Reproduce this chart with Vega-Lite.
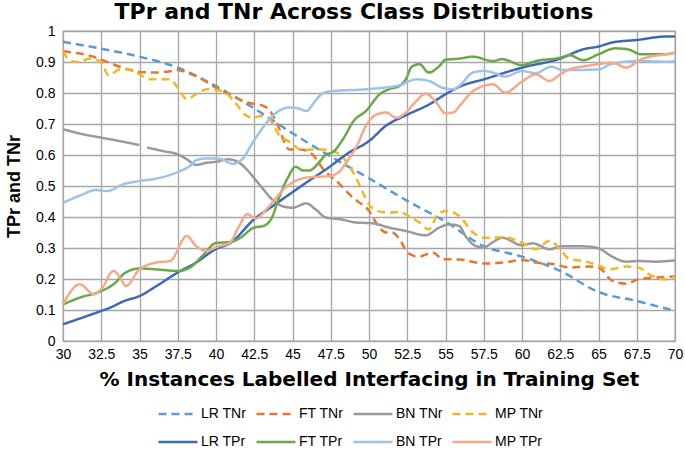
{
  "$schema": "https://vega.github.io/schema/vega-lite/v6.json",
  "width": 612,
  "height": 310,
  "autosize": "none",
  "padding": {"left": 63, "top": 31, "right": 10, "bottom": 109},
  "background": "white",
  "title": {"text": "TPr and TNr Across Class Distributions", "fontSize": 22, "fontWeight": "bold", "font": "DejaVu Sans", "color": "#000000", "offset": 0, "dx": -15},
  "config": {"view": {"stroke": "#a6a6a6", "strokeWidth": 1.3}, "font": "Liberation Sans"},
  "datasets": {
    "d": [
      {"series": "LR TNr", "x": 30, "y": 0.965}, {"series": "LR TNr", "x": 32.5, "y": 0.943}, {"series": "LR TNr", "x": 35, "y": 0.917}, {"series": "LR TNr", "x": 37.5, "y": 0.882}, {"series": "LR TNr", "x": 40, "y": 0.822}, {"series": "LR TNr", "x": 42.5, "y": 0.75}, {"series": "LR TNr", "x": 45, "y": 0.67}, {"series": "LR TNr", "x": 47.5, "y": 0.595}, {"series": "LR TNr", "x": 50, "y": 0.525}, {"series": "LR TNr", "x": 52.5, "y": 0.452}, {"series": "LR TNr", "x": 55, "y": 0.385}, {"series": "LR TNr", "x": 57.5, "y": 0.306}, {"series": "LR TNr", "x": 60, "y": 0.272}, {"series": "LR TNr", "x": 62.5, "y": 0.226}, {"series": "LR TNr", "x": 65, "y": 0.158}, {"series": "LR TNr", "x": 67.5, "y": 0.129}, {"series": "LR TNr", "x": 70, "y": 0.097},

      {"series": "FT TNr", "x": 30, "y": 0.935}, {"series": "FT TNr", "x": 31, "y": 0.928}, {"series": "FT TNr", "x": 32, "y": 0.917}, {"series": "FT TNr", "x": 33, "y": 0.898}, {"series": "FT TNr", "x": 34, "y": 0.88}, {"series": "FT TNr", "x": 35, "y": 0.868}, {"series": "FT TNr", "x": 36, "y": 0.866}, {"series": "FT TNr", "x": 37, "y": 0.87}, {"series": "FT TNr", "x": 37.5, "y": 0.874}, {"series": "FT TNr", "x": 38, "y": 0.868}, {"series": "FT TNr", "x": 39, "y": 0.847}, {"series": "FT TNr", "x": 40, "y": 0.817}, {"series": "FT TNr", "x": 41, "y": 0.793}, {"series": "FT TNr", "x": 42, "y": 0.77}, {"series": "FT TNr", "x": 43, "y": 0.76}, {"series": "FT TNr", "x": 43.5, "y": 0.745}, {"series": "FT TNr", "x": 44, "y": 0.7}, {"series": "FT TNr", "x": 44.8, "y": 0.618}, {"series": "FT TNr", "x": 45.5, "y": 0.618}, {"series": "FT TNr", "x": 46.3, "y": 0.602}, {"series": "FT TNr", "x": 47, "y": 0.555}, {"series": "FT TNr", "x": 48, "y": 0.51}, {"series": "FT TNr", "x": 49, "y": 0.46}, {"series": "FT TNr", "x": 50, "y": 0.42}, {"series": "FT TNr", "x": 50.6, "y": 0.371}, {"series": "FT TNr", "x": 51.1, "y": 0.35}, {"series": "FT TNr", "x": 51.5, "y": 0.35}, {"series": "FT TNr", "x": 52, "y": 0.328}, {"series": "FT TNr", "x": 52.5, "y": 0.287}, {"series": "FT TNr", "x": 53.2, "y": 0.272}, {"series": "FT TNr", "x": 54.2, "y": 0.285}, {"series": "FT TNr", "x": 54.8, "y": 0.264}, {"series": "FT TNr", "x": 55.9, "y": 0.263}, {"series": "FT TNr", "x": 57.5, "y": 0.25}, {"series": "FT TNr", "x": 58.8, "y": 0.253}, {"series": "FT TNr", "x": 60, "y": 0.261}, {"series": "FT TNr", "x": 60.9, "y": 0.253}, {"series": "FT TNr", "x": 62.2, "y": 0.247}, {"series": "FT TNr", "x": 63.1, "y": 0.237}, {"series": "FT TNr", "x": 64.3, "y": 0.24}, {"series": "FT TNr", "x": 65, "y": 0.237}, {"series": "FT TNr", "x": 65.9, "y": 0.194}, {"series": "FT TNr", "x": 66.8, "y": 0.185}, {"series": "FT TNr", "x": 67.6, "y": 0.199}, {"series": "FT TNr", "x": 68.5, "y": 0.204}, {"series": "FT TNr", "x": 70, "y": 0.208},

      {"series": "BN TNr", "x": 30, "y": 0.683}, {"series": "BN TNr", "x": 31.3, "y": 0.667}, {"series": "BN TNr", "x": 32.5, "y": 0.656}, {"series": "BN TNr", "x": 33.7, "y": 0.645}, {"series": "BN TNr", "x": 35, "y": 0.632}, {"series": "BN TNr", "x": 35.25, "y": null}, {"series": "BN TNr", "x": 35.5, "y": 0.624}, {"series": "BN TNr", "x": 36.5, "y": 0.613}, {"series": "BN TNr", "x": 37.5, "y": 0.602}, {"series": "BN TNr", "x": 38.1, "y": 0.586}, {"series": "BN TNr", "x": 38.7, "y": 0.568}, {"series": "BN TNr", "x": 39.4, "y": 0.575}, {"series": "BN TNr", "x": 40, "y": 0.578}, {"series": "BN TNr", "x": 40.8, "y": 0.586}, {"series": "BN TNr", "x": 41.3, "y": 0.581}, {"series": "BN TNr", "x": 42, "y": 0.554}, {"series": "BN TNr", "x": 42.5, "y": 0.525}, {"series": "BN TNr", "x": 43.1, "y": 0.489}, {"series": "BN TNr", "x": 43.7, "y": 0.455}, {"series": "BN TNr", "x": 44.4, "y": 0.434}, {"series": "BN TNr", "x": 45, "y": 0.43}, {"series": "BN TNr", "x": 45.9, "y": 0.444}, {"series": "BN TNr", "x": 46.5, "y": 0.425}, {"series": "BN TNr", "x": 47.2, "y": 0.398}, {"series": "BN TNr", "x": 48.1, "y": 0.393}, {"series": "BN TNr", "x": 49.2, "y": 0.382}, {"series": "BN TNr", "x": 50.2, "y": 0.38}, {"series": "BN TNr", "x": 51.3, "y": 0.366}, {"series": "BN TNr", "x": 52.4, "y": 0.355}, {"series": "BN TNr", "x": 53.7, "y": 0.341}, {"series": "BN TNr", "x": 54.6, "y": 0.366}, {"series": "BN TNr", "x": 55.2, "y": 0.376}, {"series": "BN TNr", "x": 55.9, "y": 0.371}, {"series": "BN TNr", "x": 56.3, "y": 0.339}, {"series": "BN TNr", "x": 57, "y": 0.306}, {"series": "BN TNr", "x": 57.5, "y": 0.302}, {"series": "BN TNr", "x": 58.1, "y": 0.319}, {"series": "BN TNr", "x": 58.7, "y": 0.333}, {"series": "BN TNr", "x": 60, "y": 0.309}, {"series": "BN TNr", "x": 60.7, "y": 0.315}, {"series": "BN TNr", "x": 61.8, "y": 0.296}, {"series": "BN TNr", "x": 62.5, "y": 0.305}, {"series": "BN TNr", "x": 63.1, "y": 0.306}, {"series": "BN TNr", "x": 64.2, "y": 0.305}, {"series": "BN TNr", "x": 65, "y": 0.299}, {"series": "BN TNr", "x": 65.9, "y": 0.272}, {"series": "BN TNr", "x": 66.8, "y": 0.256}, {"series": "BN TNr", "x": 67.6, "y": 0.258}, {"series": "BN TNr", "x": 68.7, "y": 0.256}, {"series": "BN TNr", "x": 70, "y": 0.26},

      {"series": "MP TNr", "x": 30, "y": 0.935}, {"series": "MP TNr", "x": 30.5, "y": 0.903}, {"series": "MP TNr", "x": 31.1, "y": 0.9}, {"series": "MP TNr", "x": 31.7, "y": 0.911}, {"series": "MP TNr", "x": 32.4, "y": 0.903}, {"series": "MP TNr", "x": 33, "y": 0.857}, {"series": "MP TNr", "x": 33.7, "y": 0.876}, {"series": "MP TNr", "x": 34.4, "y": 0.876}, {"series": "MP TNr", "x": 35, "y": 0.86}, {"series": "MP TNr", "x": 35.7, "y": 0.844}, {"series": "MP TNr", "x": 36.5, "y": 0.844}, {"series": "MP TNr", "x": 37, "y": 0.844}, {"series": "MP TNr", "x": 37.5, "y": 0.817}, {"series": "MP TNr", "x": 38.1, "y": 0.78}, {"series": "MP TNr", "x": 38.7, "y": 0.796}, {"series": "MP TNr", "x": 39.4, "y": 0.812}, {"series": "MP TNr", "x": 40, "y": 0.81}, {"series": "MP TNr", "x": 40.7, "y": 0.798}, {"series": "MP TNr", "x": 41.3, "y": 0.766}, {"series": "MP TNr", "x": 41.9, "y": 0.73}, {"series": "MP TNr", "x": 42.4, "y": 0.72}, {"series": "MP TNr", "x": 42.9, "y": 0.726}, {"series": "MP TNr", "x": 43.5, "y": 0.715}, {"series": "MP TNr", "x": 44.1, "y": 0.667}, {"series": "MP TNr", "x": 44.9, "y": 0.64}, {"series": "MP TNr", "x": 45.6, "y": 0.616}, {"series": "MP TNr", "x": 46.5, "y": 0.618}, {"series": "MP TNr", "x": 47, "y": 0.618}, {"series": "MP TNr", "x": 47.6, "y": 0.613}, {"series": "MP TNr", "x": 48.1, "y": 0.602}, {"series": "MP TNr", "x": 48.7, "y": 0.565}, {"series": "MP TNr", "x": 49.2, "y": 0.522}, {"series": "MP TNr", "x": 49.6, "y": 0.479}, {"series": "MP TNr", "x": 50, "y": 0.44}, {"series": "MP TNr", "x": 50.6, "y": 0.419}, {"series": "MP TNr", "x": 51.3, "y": 0.414}, {"series": "MP TNr", "x": 52, "y": 0.416}, {"series": "MP TNr", "x": 52.6, "y": 0.403}, {"series": "MP TNr", "x": 53.3, "y": 0.382}, {"series": "MP TNr", "x": 53.9, "y": 0.36}, {"series": "MP TNr", "x": 54.6, "y": 0.414}, {"series": "MP TNr", "x": 55.2, "y": 0.419}, {"series": "MP TNr", "x": 55.9, "y": 0.403}, {"series": "MP TNr", "x": 56.8, "y": 0.35}, {"series": "MP TNr", "x": 57.5, "y": 0.333}, {"series": "MP TNr", "x": 58.8, "y": 0.335}, {"series": "MP TNr", "x": 60, "y": 0.317}, {"series": "MP TNr", "x": 60.9, "y": 0.296}, {"series": "MP TNr", "x": 61.8, "y": 0.323}, {"series": "MP TNr", "x": 62.5, "y": 0.296}, {"series": "MP TNr", "x": 63.1, "y": 0.264}, {"series": "MP TNr", "x": 64, "y": 0.258}, {"series": "MP TNr", "x": 65, "y": 0.244}, {"series": "MP TNr", "x": 65.7, "y": 0.231}, {"series": "MP TNr", "x": 66.8, "y": 0.24}, {"series": "MP TNr", "x": 67.6, "y": 0.237}, {"series": "MP TNr", "x": 68.5, "y": 0.21}, {"series": "MP TNr", "x": 69.4, "y": 0.199}, {"series": "MP TNr", "x": 70, "y": 0.208},

      {"series": "LR TPr", "x": 30, "y": 0.054}, {"series": "LR TPr", "x": 32.5, "y": 0.097}, {"series": "LR TPr", "x": 33.1, "y": 0.108}, {"series": "LR TPr", "x": 34, "y": 0.129}, {"series": "LR TPr", "x": 35, "y": 0.145}, {"series": "LR TPr", "x": 36.1, "y": 0.177}, {"series": "LR TPr", "x": 37.5, "y": 0.221}, {"series": "LR TPr", "x": 38.7, "y": 0.253}, {"series": "LR TPr", "x": 40, "y": 0.297}, {"series": "LR TPr", "x": 40.9, "y": 0.315}, {"series": "LR TPr", "x": 42.5, "y": 0.393}, {"series": "LR TPr", "x": 43.7, "y": 0.435}, {"series": "LR TPr", "x": 45, "y": 0.48}, {"series": "LR TPr", "x": 45.9, "y": 0.511}, {"series": "LR TPr", "x": 47.2, "y": 0.554}, {"series": "LR TPr", "x": 48.7, "y": 0.608}, {"series": "LR TPr", "x": 50, "y": 0.645}, {"series": "LR TPr", "x": 51.1, "y": 0.694}, {"series": "LR TPr", "x": 52.5, "y": 0.73}, {"series": "LR TPr", "x": 54, "y": 0.765}, {"series": "LR TPr", "x": 55, "y": 0.796}, {"series": "LR TPr", "x": 55.9, "y": 0.82}, {"series": "LR TPr", "x": 57.5, "y": 0.844}, {"series": "LR TPr", "x": 60, "y": 0.882}, {"series": "LR TPr", "x": 62.5, "y": 0.911}, {"series": "LR TPr", "x": 64, "y": 0.941}, {"series": "LR TPr", "x": 65, "y": 0.95}, {"series": "LR TPr", "x": 65.9, "y": 0.963}, {"series": "LR TPr", "x": 67.5, "y": 0.971}, {"series": "LR TPr", "x": 69.4, "y": 0.982}, {"series": "LR TPr", "x": 70, "y": 0.982},

      {"series": "FT TPr", "x": 30, "y": 0.118}, {"series": "FT TPr", "x": 31.1, "y": 0.14}, {"series": "FT TPr", "x": 32.5, "y": 0.161}, {"series": "FT TPr", "x": 33.3, "y": 0.183}, {"series": "FT TPr", "x": 34.1, "y": 0.221}, {"series": "FT TPr", "x": 35, "y": 0.234}, {"series": "FT TPr", "x": 36.1, "y": 0.231}, {"series": "FT TPr", "x": 37.5, "y": 0.226}, {"series": "FT TPr", "x": 38.3, "y": 0.237}, {"series": "FT TPr", "x": 39.1, "y": 0.274}, {"series": "FT TPr", "x": 40, "y": 0.316}, {"series": "FT TPr", "x": 40.9, "y": 0.319}, {"series": "FT TPr", "x": 41.5, "y": 0.33}, {"series": "FT TPr", "x": 42.5, "y": 0.366}, {"series": "FT TPr", "x": 43.1, "y": 0.371}, {"series": "FT TPr", "x": 43.7, "y": 0.403}, {"series": "FT TPr", "x": 44.1, "y": 0.46}, {"series": "FT TPr", "x": 44.7, "y": 0.527}, {"series": "FT TPr", "x": 45.2, "y": 0.562}, {"series": "FT TPr", "x": 45.7, "y": 0.55}, {"series": "FT TPr", "x": 46.1, "y": 0.55}, {"series": "FT TPr", "x": 46.8, "y": 0.58}, {"series": "FT TPr", "x": 47.2, "y": 0.602}, {"series": "FT TPr", "x": 47.6, "y": 0.608}, {"series": "FT TPr", "x": 48.3, "y": 0.651}, {"series": "FT TPr", "x": 49, "y": 0.71}, {"series": "FT TPr", "x": 49.8, "y": 0.742}, {"series": "FT TPr", "x": 50.7, "y": 0.796}, {"series": "FT TPr", "x": 51.3, "y": 0.812}, {"series": "FT TPr", "x": 52, "y": 0.823}, {"series": "FT TPr", "x": 52.4, "y": 0.844}, {"series": "FT TPr", "x": 52.8, "y": 0.885}, {"series": "FT TPr", "x": 53.3, "y": 0.893}, {"series": "FT TPr", "x": 53.9, "y": 0.866}, {"series": "FT TPr", "x": 54.6, "y": 0.887}, {"series": "FT TPr", "x": 55, "y": 0.907}, {"series": "FT TPr", "x": 55.9, "y": 0.911}, {"series": "FT TPr", "x": 56.8, "y": 0.917}, {"series": "FT TPr", "x": 58.1, "y": 0.903}, {"series": "FT TPr", "x": 58.7, "y": 0.909}, {"series": "FT TPr", "x": 60, "y": 0.89}, {"series": "FT TPr", "x": 60.9, "y": 0.903}, {"series": "FT TPr", "x": 62.5, "y": 0.914}, {"series": "FT TPr", "x": 63.1, "y": 0.922}, {"series": "FT TPr", "x": 64, "y": 0.906}, {"series": "FT TPr", "x": 65, "y": 0.925}, {"series": "FT TPr", "x": 66.1, "y": 0.944}, {"series": "FT TPr", "x": 66.9, "y": 0.941}, {"series": "FT TPr", "x": 67.8, "y": 0.925}, {"series": "FT TPr", "x": 69.4, "y": 0.925}, {"series": "FT TPr", "x": 70, "y": 0.93},

      {"series": "BN TPr", "x": 30, "y": 0.446}, {"series": "BN TPr", "x": 31.3, "y": 0.473}, {"series": "BN TPr", "x": 32.1, "y": 0.487}, {"series": "BN TPr", "x": 32.9, "y": 0.484}, {"series": "BN TPr", "x": 33.9, "y": 0.505}, {"series": "BN TPr", "x": 35, "y": 0.516}, {"series": "BN TPr", "x": 36.1, "y": 0.524}, {"series": "BN TPr", "x": 37.5, "y": 0.545}, {"series": "BN TPr", "x": 38.3, "y": 0.565}, {"series": "BN TPr", "x": 38.7, "y": 0.583}, {"series": "BN TPr", "x": 39.4, "y": 0.589}, {"series": "BN TPr", "x": 40.2, "y": 0.588}, {"series": "BN TPr", "x": 41.1, "y": 0.572}, {"series": "BN TPr", "x": 41.7, "y": 0.586}, {"series": "BN TPr", "x": 42.4, "y": 0.64}, {"series": "BN TPr", "x": 43.3, "y": 0.704}, {"series": "BN TPr", "x": 44.1, "y": 0.742}, {"series": "BN TPr", "x": 44.8, "y": 0.753}, {"series": "BN TPr", "x": 45.4, "y": 0.75}, {"series": "BN TPr", "x": 45.9, "y": 0.742}, {"series": "BN TPr", "x": 46.5, "y": 0.775}, {"series": "BN TPr", "x": 47, "y": 0.8}, {"series": "BN TPr", "x": 47.6, "y": 0.806}, {"series": "BN TPr", "x": 49.8, "y": 0.812}, {"series": "BN TPr", "x": 52, "y": 0.825}, {"series": "BN TPr", "x": 53.1, "y": 0.844}, {"series": "BN TPr", "x": 53.9, "y": 0.839}, {"series": "BN TPr", "x": 54.8, "y": 0.817}, {"series": "BN TPr", "x": 55.5, "y": 0.812}, {"series": "BN TPr", "x": 55.9, "y": 0.823}, {"series": "BN TPr", "x": 56.8, "y": 0.866}, {"series": "BN TPr", "x": 57.5, "y": 0.871}, {"series": "BN TPr", "x": 58.1, "y": 0.866}, {"series": "BN TPr", "x": 58.9, "y": 0.853}, {"series": "BN TPr", "x": 60, "y": 0.871}, {"series": "BN TPr", "x": 60.9, "y": 0.864}, {"series": "BN TPr", "x": 61.9, "y": 0.885}, {"series": "BN TPr", "x": 62.5, "y": 0.876}, {"series": "BN TPr", "x": 63.1, "y": 0.874}, {"series": "BN TPr", "x": 65, "y": 0.876}, {"series": "BN TPr", "x": 65.8, "y": 0.893}, {"series": "BN TPr", "x": 67.5, "y": 0.903}, {"series": "BN TPr", "x": 69.4, "y": 0.901}, {"series": "BN TPr", "x": 70, "y": 0.903},

      {"series": "MP TPr", "x": 30, "y": 0.118}, {"series": "MP TPr", "x": 31.1, "y": 0.183}, {"series": "MP TPr", "x": 32, "y": 0.151}, {"series": "MP TPr", "x": 32.5, "y": 0.167}, {"series": "MP TPr", "x": 33.3, "y": 0.226}, {"series": "MP TPr", "x": 33.8, "y": 0.199}, {"series": "MP TPr", "x": 34.1, "y": 0.177}, {"series": "MP TPr", "x": 35, "y": 0.231}, {"series": "MP TPr", "x": 36.1, "y": 0.253}, {"series": "MP TPr", "x": 37, "y": 0.258}, {"series": "MP TPr", "x": 38.1, "y": 0.339}, {"series": "MP TPr", "x": 38.7, "y": 0.306}, {"series": "MP TPr", "x": 39.4, "y": 0.29}, {"series": "MP TPr", "x": 40, "y": 0.303}, {"series": "MP TPr", "x": 40.9, "y": 0.317}, {"series": "MP TPr", "x": 41.5, "y": 0.37}, {"series": "MP TPr", "x": 42.05, "y": 0.409}, {"series": "MP TPr", "x": 42.6, "y": 0.395}, {"series": "MP TPr", "x": 43.3, "y": 0.425}, {"series": "MP TPr", "x": 43.9, "y": 0.46}, {"series": "MP TPr", "x": 44.4, "y": 0.489}, {"series": "MP TPr", "x": 45, "y": 0.511}, {"series": "MP TPr", "x": 45.9, "y": 0.527}, {"series": "MP TPr", "x": 46.8, "y": 0.53}, {"series": "MP TPr", "x": 47.4, "y": 0.532}, {"series": "MP TPr", "x": 48.1, "y": 0.548}, {"series": "MP TPr", "x": 48.5, "y": 0.575}, {"series": "MP TPr", "x": 49.2, "y": 0.629}, {"series": "MP TPr", "x": 49.8, "y": 0.694}, {"series": "MP TPr", "x": 50.5, "y": 0.731}, {"series": "MP TPr", "x": 51.1, "y": 0.737}, {"series": "MP TPr", "x": 51.8, "y": 0.72}, {"series": "MP TPr", "x": 52.4, "y": 0.737}, {"series": "MP TPr", "x": 53.1, "y": 0.774}, {"series": "MP TPr", "x": 53.7, "y": 0.798}, {"series": "MP TPr", "x": 54.4, "y": 0.769}, {"series": "MP TPr", "x": 55, "y": 0.735}, {"series": "MP TPr", "x": 55.5, "y": 0.737}, {"series": "MP TPr", "x": 55.9, "y": 0.757}, {"series": "MP TPr", "x": 56.8, "y": 0.806}, {"series": "MP TPr", "x": 58.1, "y": 0.828}, {"series": "MP TPr", "x": 58.9, "y": 0.801}, {"series": "MP TPr", "x": 60, "y": 0.837}, {"series": "MP TPr", "x": 60.9, "y": 0.86}, {"series": "MP TPr", "x": 61.8, "y": 0.839}, {"series": "MP TPr", "x": 62.5, "y": 0.86}, {"series": "MP TPr", "x": 63.1, "y": 0.876}, {"series": "MP TPr", "x": 64.2, "y": 0.887}, {"series": "MP TPr", "x": 65, "y": 0.893}, {"series": "MP TPr", "x": 65.9, "y": 0.898}, {"series": "MP TPr", "x": 66.8, "y": 0.882}, {"series": "MP TPr", "x": 67.8, "y": 0.909}, {"series": "MP TPr", "x": 69.4, "y": 0.925}, {"series": "MP TPr", "x": 70, "y": 0.93}
    ]
  },
  "data": {"name": "d"},
  "mark": {"type": "line", "interpolate": "monotone", "strokeWidth": 2.5},
  "encoding": {
    "x": {
      "field": "x", "type": "quantitative",
      "scale": {"domain": [30, 70], "nice": false, "zero": false},
      "axis": {
        "values": [30, 32.5, 35, 37.5, 40, 42.5, 45, 47.5, 50, 52.5, 55, 57.5, 60, 62.5, 65, 67.5, 70],
        "format": ".1~f", "title": "% Instances Labelled Interfacing in Training Set",
        "titleFont": "DejaVu Sans", "titleFontSize": 20, "titleFontWeight": "bold", "titleColor": "#000000", "titlePadding": 8,
        "labelFontSize": 14, "labelColor": "#000000", "labelPadding": 6, "labelFlush": false,
        "gridColor": "#a6a6a6", "gridWidth": 1.3, "domain": false, "ticks": false
      }
    },
    "y": {
      "field": "y", "type": "quantitative",
      "scale": {"domain": [0, 1], "nice": false},
      "axis": {
        "values": [0, 0.1, 0.2, 0.3, 0.4, 0.5, 0.6, 0.7, 0.8, 0.9, 1],
        "format": ".1~f", "title": "TPr and TNr",
        "titleFontSize": 18, "titleFontWeight": "bold", "titleColor": "#000000", "titlePadding": 12,
        "labelFontSize": 14, "labelColor": "#000000", "labelPadding": 8, "labelFlush": false,
        "gridColor": "#a6a6a6", "gridWidth": 1.3, "domain": false, "ticks": false
      }
    },
    "color": {
      "field": "series", "type": "nominal",
      "scale": {
        "domain": ["LR TNr", "FT TNr", "BN TNr", "MP TNr", "LR TPr", "FT TPr", "BN TPr", "MP TPr"],
        "range": ["#5b9bd5", "#e8772e", "#9a9a9a", "#f2b824", "#4068b8", "#6aa84a", "#9dc3e6", "#f4aa8a"]
      },
      "legend": {
        "orient": "none", "legendX": 94, "legendY": 362, "columns": 4, "direction": "horizontal",
        "title": null, "symbolType": "stroke", "symbolSize": 1521, "symbolStrokeWidth": 2.5,
        "labelFontSize": 14, "labelColor": "#000000", "columnPadding": 4, "rowPadding": -14, "labelOffset": 2
      }
    },
    "strokeDash": {
      "field": "series", "type": "nominal",
      "scale": {
        "domain": ["LR TNr", "FT TNr", "BN TNr", "MP TNr", "LR TPr", "FT TPr", "BN TPr", "MP TPr"],
        "range": [[8, 5], [8, 5], [1, 0], [8, 5], [1, 0], [1, 0], [1, 0], [1, 0]]
      }
    }
  }
}
